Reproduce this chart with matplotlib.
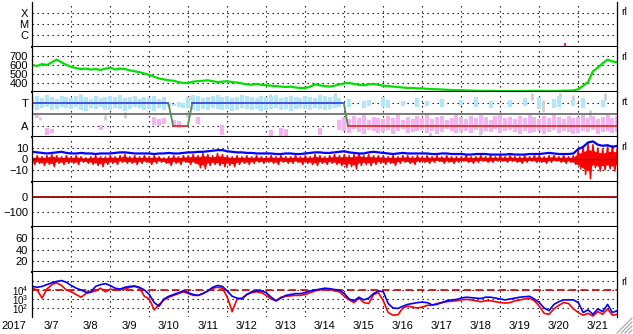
import numpy as np
import matplotlib
matplotlib.use("Agg")
import matplotlib.pyplot as plt
from matplotlib.lines import Line2D

plt.rcParams['font.family'] = ['Liberation Sans', 'DejaVu Sans']
plt.rcParams['mathtext.fontset'] = 'custom'
plt.rcParams['mathtext.rm'] = 'Liberation Sans'
plt.rcParams['mathtext.default'] = 'rm'

nan = np.nan

# ------------------ DATOS (3 h, desde 3/7 00:00) ------------------
day_labels = ['3/7', '3/8', '3/9', '3/10', '3/11', '3/12', '3/13', '3/14',
              '3/15', '3/16', '3/17', '3/18', '3/19', '3/20', '3/21']
year_label = '2017'

# rayos X (solo una marca)
xray_t = [13.66]
xray_lo = [1.0e-7]
xray_hi = [1.8e-7]

# velocidad viento solar (km/s)
speed = [600, 590, 610, 600, 630, 660, 630, 600,
         580, 565, 555, 560, 550, 555, 545, 560,
         570, 550, 560, 555, 540, 530, 520, 505,
         490, 470, 450, 440, 430, 425, 410, 400,
         400, 415, 420, 425, 430, 420, 410, 415,
         420, 410, 405, 395, 385, 380, 390, 380,
         375, 370, 365, 360, 355, 360, 350, 345,
         345, 360, 385, 375, 365, 360, 370, 385,
         395, 400, 390, 380, 375, 385, 390, 380,
         370, 365, 360, 355, 350, 345, 345, 340,
         340, 335, 332, 330, 328, 325, 322, 320,
         320, 318, 316, 315, 313, 312, 312, 310,
         310, 310, 310, 310, 310, 310, 312, 312,
         312, 312, 310, 310, 312, 315, 315, 318,
         330, 370, 410, 530, 570, 620, 660, 640, 630]

# panel T / A
temp_lo = [28, 27, 29, 30, 27, 28, 30, 29,
           28, 30, 27, 26, 29, 28, 30, 27,
           27, 29, 28, 26, 28, 30, 29, 27,
           28, 26, 29, 27, 30, 31, 30, 29,
           29, 27, 26, 28, 27, 29, 28, 27,
           28, 26, 27, 29, 28, 27, 28, 26,
           27, 28, 29, 27, 28, 26, 28, 29,
           28, 27, 29, 28, 27, 28, 29, 30,
           nan, 30, nan, nan, 29, 31, nan, nan,
           30, 29, nan, nan, 31, nan, nan, 30,
           nan, 31, nan, nan, 30, nan, nan, nan,
           31, nan, nan, 30, nan, nan, 29, nan,
           nan, nan, 30, nan, nan, 31, nan, nan,
           28, nan, nan, 29, 30, nan, nan, 31,
           nan, 29, nan, nan, nan, 30, nan, nan, nan]
temp_hi = [40, 41, 39, 42, 40, 38, 41, 40,
           39, 41, 42, 40, 38, 41, 39, 40,
           41, 40, 42, 39, 40, 41, 38, 40,
           39, 41, 38, 40, 34, 33, 35, 34,
           40, 42, 41, 39, 40, 41, 42, 40,
           41, 39, 40, 42, 41, 40, 39, 41,
           40, 41, 42, 39, 40, 41, 40, 39,
           41, 40, 39, 42, 41, 40, 41, 39,
           nan, 38, nan, nan, 36, 37, nan, nan,
           40, 37, nan, nan, 36, nan, nan, 39,
           nan, 36, nan, nan, 38, nan, nan, nan,
           37, nan, nan, 40, nan, nan, 36, nan,
           nan, nan, 37, nan, nan, 39, nan, nan,
           40, nan, nan, 38, 41, nan, nan, 37,
           nan, 39, nan, nan, nan, 37, nan, nan, nan]
alpha_lo = [nan, 19, nan, 2, 4, nan, nan, nan,
            nan, nan, nan, nan, nan, nan, 7, nan,
            nan, nan, nan, nan, nan, nan, nan, nan,
            nan, 12, 11, 13, nan, 10, 9, nan,
            nan, nan, 13, nan, nan, nan, nan, 2,
            nan, nan, nan, nan, nan, nan, nan, nan,
            nan, 0, nan, 0, 1, nan, nan, nan,
            nan, nan, nan, 2, nan, nan, nan, 7,
            6, 4, 8, 5, 3, 7, 6, 4,
            5, 7, 3, 6, 8, 4, 5, 6,
            7, 4, 6, 3, 5, 8, 6, 4,
            5, 6, 4, 7, 3, 6, 5, 8,
            4, 6, 7, 5, 3, 6, 4, 5,
            6, 3, 5, 7, 4, 6, 5, 3,
            4, 6, 5, 7, 3, 5, 6, 4, 5]
alpha_hi = [nan, 22, nan, 9, 8, nan, nan, nan,
            nan, nan, nan, nan, nan, nan, 12, nan,
            nan, nan, nan, nan, nan, nan, nan, nan,
            nan, 20, 18, 19, nan, 17, 16, nan,
            nan, nan, 20, nan, nan, nan, nan, 12,
            nan, nan, nan, nan, nan, nan, nan, nan,
            nan, 7, nan, 9, 8, nan, nan, nan,
            nan, nan, nan, 9, nan, nan, nan, 17,
            20, 18, 21, 19, 22, 17, 20, 19,
            18, 21, 19, 22, 17, 20, 18, 21,
            19, 22, 18, 20, 21, 17, 19, 22,
            20, 18, 21, 19, 22, 20, 17, 21,
            22, 19, 20, 18, 21, 19, 22, 20,
            18, 21, 19, 22, 20, 18, 21, 19,
            20, 22, 19, 21, 18, 20, 22, 19, 21]
gray_t = [0.20, 1.22, 1.87, 2.38, 3.97, 4.04, 6.10, 7.76, 8.66,
          10.20, 11.48, 12.81, 13.09, 13.53, 13.86, 14.30, 14.69]
gray_lo = [17, 37, 17, 19, 20, 37, 40, 37, 10, 0, 2, 37, 25, 40, 34, 17, 37]
gray_hi = [20, 43, 22, 25, 25, 41, 43, 44, 14, 5, 8, 44, 37, 44, 42, 27, 44]
mode_t = [0.0, 3.49, 3.61, 3.99, 4.10, 7.99, 8.09, 15.0]
mode_v = ['T', 'T', 'A', 'A', 'T', 'T', 'A', 'A']

# campo magnetico (nT)
bt = [6.5, 6, 5.5, 5, 5.5, 6, 6.5, 5.5,
      5, 5, 5.5, 5, 5, 4.5, 5, 5,
      5, 5.5, 6, 6, 5.5, 5, 5, 5,
      5, 4.5, 5, 5, 5.5, 5, 5, 5.5,
      6, 6, 6.5, 6.5, 7, 7.5, 8, 8,
      7, 6.5, 6, 6, 5.5, 5.5, 5, 5,
      5, 5, 4.5, 4.5, 5, 5, 4.5, 4.5,
      5, 5.5, 6, 6, 5.5, 5.5, 6, 6.5,
      7, 6, 5.5, 5, 5, 6, 6.5, 6,
      5.5, 5, 4.5, 5, 5.5, 5, 5, 5,
      5, 5, 4.5, 4.5, 5, 5, 4.5, 4.5,
      4.5, 4, 4, 4.5, 4.5, 4.5, 4, 4,
      4, 4, 4.5, 4, 4, 4, 4.5, 4.5,
      4.5, 5, 5.5, 5, 4.5, 4.5, 4.5, 5,
      9, 11, 15, 16, 13, 12, 12.5, 11, 12]
bz_lo = [-5, -4, -6, -5, -7, -4, -5, -4,
         -4, -5, -3, -4, -5, -6, -7, -5,
         -4, -5, -3, -4, -4, -5, -4, -3,
         -5, -4, -3, -4, -6, -4, -5, -3,
         -5, -4, -8, -9, -6, -5, -6, -7,
         -6, -7, -5, -4, -5, -4, -3, -4,
         -3, -4, -5, -3, -4, -4, -3, -5,
         -4, -5, -6, -4, -5, -4, -5, -6,
         -8, -7, -9, -6, -5, -6, -5, -4,
         -5, -4, -6, -4, -3, -4, -5, -3,
         -3, -4, -3, -2, -4, -3, -4, -3,
         -2, -3, -4, -3, -2, -3, -3, -2,
         -2, -3, -2, -3, -4, -3, -2, -3,
         -3, -4, -3, -2, -3, -4, -3, -5,
         -9, -14, -18, -8, -11, -10, -9, -11, -8]
bz_hi = [2, 3, 2, 3, 4, 3, 2, 3,
         2, 3, 2, 1, 2, 3, 2, 2,
         3, 2, 3, 4, 2, 3, 2, 3,
         2, 3, 2, 1, 2, 3, 2, 3,
         3, 4, 3, 5, 4, 3, 5, 4,
         3, 2, 3, 2, 3, 2, 3, 2,
         2, 3, 2, 3, 2, 2, 3, 2,
         3, 2, 4, 3, 2, 3, 4, 3,
         4, 3, 4, 5, 3, 4, 3, 3,
         3, 2, 3, 2, 3, 3, 2, 3,
         2, 3, 2, 3, 2, 3, 2, 2,
         2, 3, 2, 2, 3, 2, 3, 2,
         3, 2, 3, 2, 2, 3, 2, 3,
         3, 2, 3, 3, 2, 3, 2, 3,
         8, 11, 14, 13, 10, 9, 11, 12, 10]

# Dst y Kp: sin datos (solo linea de 0)
dst_zero = 0

# flujo de electrones (log10)
flux_a_log = [4.4, 4.3, 4.4, 4.6, 4.8, 4.95, 5.05, 4.85,
              4.5, 4.2, 4.0, 3.75, 3.8, 4.4, 4.6, 4.7,
              4.5, 4.2, 4.1, 4.3, 4.4, 4.45, 4.3, 4.0,
              3.5, 2.6, 2.2, 3.0, 3.3, 3.5, 3.7, 3.9,
              3.7, 3.5, 3.4, 3.6, 3.9, 4.3, 4.5, 4.4,
              3.9, 3.3, 3.1, 3.0, 3.5, 3.8, 3.9, 3.9,
              3.7, 3.2, 2.8, 3.1, 3.4, 3.5, 3.6, 3.6,
              3.7, 3.9, 4.0, 4.1, 4.2, 4.15, 4.05, 4.0,
              3.6, 3.0, 2.8, 3.2, 2.9, 3.1, 3.6, 3.9,
              3.8, 2.5, 2.0, 1.95, 2.2, 2.4, 2.5, 2.6,
              2.65, 2.6, 2.35, 2.4, 2.6, 2.8, 2.9, 2.95,
              3.1, 3.2, 3.15, 3.1, 3.05, 3.2, 3.2, 3.1,
              3.0, 2.9, 3.0, 3.1, 3.2, 3.25, 3.3, 3.0,
              2.6, 2.0, 1.7, 2.4, 2.7, 2.9, 2.9, 2.9,
              2.6, 1.5, 1.8, 1.3, 1.9, 1.6, 2.4, 1.5, 1.7]
flux_b_log = [4.2, 4.0, 3.1, 4.1, 4.6, 4.8, 4.5, 4.0,
              3.8, 3.5, 3.2, 3.6, 3.75, 3.9, 4.2, 3.8,
              4.1, 4.0, 4.1, 4.1, 4.3, 4.4, 4.2, 3.3,
              3.0, 1.8, 2.4, 2.9, 3.2, 3.4, 3.6, 3.8,
              3.6, 3.4, 3.4, 3.6, 3.9, 4.2, 4.3, 4.2,
              3.2, 1.6, 3.0, 3.1, 3.5, 3.7, 3.8, 3.7,
              3.4, 3.0, 2.8, 3.2, 3.3, 3.35, 3.4, 3.4,
              3.5, 3.7, 3.9, 4.0, 4.1, 4.1, 3.9, 3.8,
              3.3, 2.9, 2.6, 3.1, 2.6, 2.5, 3.5, 3.7,
              2.8, 1.5, 1.2, 1.25, 2.0, 2.2, 2.1, 2.0,
              2.1, 2.3, 2.3, 2.5, 2.6, 2.7, 2.75, 2.8,
              2.9, 2.95, 2.9, 2.8, 2.7, 2.8, 2.8, 2.7,
              2.6, 2.55, 2.6, 2.8, 2.9, 3.0, 3.1, 2.8,
              2.2, 1.4, 1.3, 1.9, 2.3, 2.6, 2.5, 1.9,
              1.5, 1.2, 1.4, 1.1, 1.6, 1.3, 1.9, 1.2, 1.3]
flux_alert = 1e4

# ------------------ FIGURA ------------------
W, H = 633, 334
fig = plt.figure(figsize=(W / 100, H / 100), dpi=100)

t = np.arange(len(speed)) * 0.125
x0, x1 = 32.3, 617.3
top0, ph = 2, 45
dots = (0, (1.2, 3.3))

axs = []
for k in range(7):
    top = top0 + ph * k
    ax = fig.add_axes([x0 / W, 1 - (top + ph) / H, (x1 - x0) / W, ph / H])
    ax.set_xlim(0, 15)
    ax.spines['top'].set_visible(False)
    ax.spines['bottom'].set_linewidth(1.5)
    ax.spines['bottom'].set_visible(k < 6)
    ax.spines['left'].set_linewidth(0.9)
    ax.spines['right'].set_linewidth(0.9)
    ax.set_xticks(range(1, 15))
    ax.tick_params(axis='both', which='both', length=0, labelsize=8, pad=3)
    ax.tick_params(axis='x', which='major', labelbottom=False)
    ax.grid(True, which='major', ls=dots, color='black', lw=0.8)
    ax.set_axisbelow(True)
    axs.append(ax)

# 1) rayos X
ax = axs[0]
ax.set_yscale('log')
ax.set_ylim(8e-8, 1e-3)
ax.yaxis.set_minor_locator(matplotlib.ticker.NullLocator())
ax.set_yticks([1e-6, 1e-5, 1e-4], ['C', 'M', 'X'])
ax.vlines(xray_t, xray_lo, xray_hi, color='#ff00ff', lw=1.5)

# 2) velocidad
ax = axs[1]
ax.set_ylim(300, 800)
ax.set_yticks([400, 500, 600, 700])
ax.plot(t, speed, color='#00e000', lw=1.6)

# 3) T / A
ax = axs[2]
ax.set_ylim(0, 45)
lvl = {'T': 33.7, 'A': 11.5}
ax.set_yticks([lvl['A'], lvl['T']], ['A', 'T'])
ax.vlines(t, alpha_lo, alpha_hi, color='#f4b4f0', lw=3.0)
ax.vlines(gray_t, gray_lo, gray_hi, color='#cfcfcf', lw=2.0)
ax.vlines(t, temp_lo, temp_hi, color='#b4e6fa', lw=3.0)
ax.axhline(23, color='#707070', lw=1.3)
for i in range(len(mode_t) - 1):
    a, b = mode_v[i], mode_v[i + 1]
    if a == b:
        c = '#3848e0' if a == 'T' else '#e03030'
    else:
        c = '#5a8a5a'
    ax.plot([mode_t[i], mode_t[i + 1]], [lvl[a], lvl[b]], color=c, lw=1.3)

# 4) Bz / Bt
ax = axs[3]
ax.set_ylim(-21, 20)
ax.set_yticks([-10, 0, 10])
tz = np.empty(2 * len(t))
vz = np.empty(2 * len(t))
tz[0::2] = t
tz[1::2] = t + 0.0625
vz[0::2] = bz_hi
vz[1::2] = bz_lo
tz, vz = tz[:-1], vz[:-1]
ax.fill_between(t, np.array(bz_lo) * 0.6, np.array(bz_hi) * 0.6,
                color='#ff0000', lw=0)
ax.plot(tz, vz, color='#ff0000', lw=1.1)
ax.axhline(0, color='#a00000', lw=1.0)
ax.plot(t, bt, color='#0000ff', lw=1.6)

# 5) Dst
ax = axs[4]
ax.set_ylim(-200, 100)
ax.set_yticks([-100, 0])
ax.axhline(dst_zero, color='#a00000', lw=1.3)

# 6) Kp
ax = axs[5]
ax.set_ylim(0, 80)
ax.set_yticks([20, 40, 60])

# 7) flujo de electrones
ax = axs[6]
ax.set_yscale('log')
ax.set_ylim(1e1, 1e6)
ax.yaxis.set_minor_locator(matplotlib.ticker.NullLocator())
ax.set_yticks([1e2, 1e3, 1e4, 1e5], ['$10^2$', '$10^3$', '$10^4$', ''])
ax.tick_params(axis='y', labelsize=7)
ax.axhline(flux_alert, color='#cc0000', lw=1.2, dashes=(4.5, 2.5))
ax.plot(t, 10 ** np.array(flux_b_log), color='#ff0000', lw=1.2)
ax.plot(t, 10 ** np.array(flux_a_log), color='#0000ff', lw=1.2)
ax.set_xticks(np.arange(15) + 0.5, day_labels, minor=True)
ax.tick_params(axis='x', which='minor', labelsize=8, pad=3, length=0)

fig.text(1 / W, 1 - 326 / H, year_label, fontsize=8, va='center', ha='left')

# etiquetas a la derecha
for k, lab in zip([0, 1, 2, 3, 6], ['rl', 'rl', 'rt', 'rl', 'rl']):
    fig.text(621 / W, 1 - (top0 + ph * k + 10) / H, lab, fontsize=7.5,
             va='center', ha='left')

# agarre de redimension
for d in [4, 8, 12, 16]:
    fig.add_artist(Line2D([(W - d) / W, (W - 1) / W], [1 / H, (d) / H],
                          transform=fig.transFigure, color='#a0a0a0', lw=0.8))

fig.savefig('out.png', dpi=100)
